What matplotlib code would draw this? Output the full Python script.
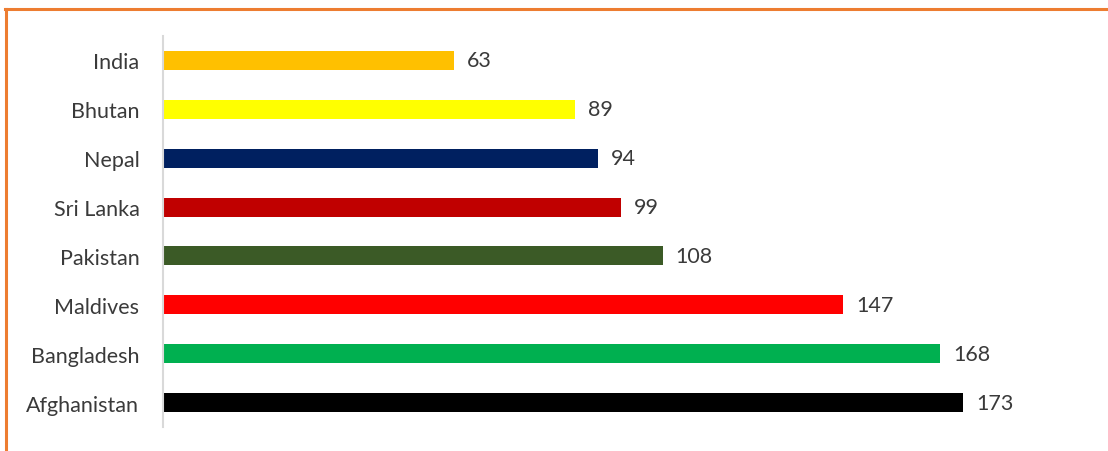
import matplotlib.pyplot as plt
from matplotlib.lines import Line2D

countries = ['India', 'Bhutan', 'Nepal', 'Sri Lanka', 'Pakistan',
             'Maldives', 'Bangladesh', 'Afghanistan']
values = [63, 89, 94, 99, 108, 147, 168, 173]
colors = ['#FFC000', '#FFFF00', '#002060', '#C00000', '#3B5A26',
          '#FF0000', '#00B050', '#000000']

plt.rcParams['font.family'] = ['Lato', 'DejaVu Sans']

fig = plt.figure(figsize=(11.08, 4.52), dpi=100)
ax = fig.add_axes([163 / 1108, 1 - 428 / 452, (1088 - 163) / 1108, (428 - 37) / 452])

pos = list(range(len(countries)))
ax.barh(pos, values, height=0.39, color=colors)
ax.set_ylim(len(countries) - 0.5, -0.5)
ax.set_xlim(0, 200)

for p, v in zip(pos, values):
    ax.text(v + 2.8, p, str(v), va='center', ha='left', fontsize=15.5,
            color='#3A3A3A')

ax.set_yticks(pos)
ax.set_yticklabels(countries, fontsize=15.5, color='#3A3A3A')
ax.tick_params(axis='y', length=0, pad=17)
ax.set_xticks([])
for s in ['top', 'right', 'bottom']:
    ax.spines[s].set_visible(False)
ax.spines['left'].set_color('#D9D9D9')
ax.spines['left'].set_linewidth(1.5)

# orange frame (top and left edges)
fig.add_artist(Line2D([5 / 1108, 1], [1 - 10 / 452, 1 - 10 / 452],
                      transform=fig.transFigure, color='#ED7D31', lw=2.2))
fig.add_artist(Line2D([6 / 1108, 6 / 1108], [0, 1 - 10 / 452],
                      transform=fig.transFigure, color='#ED7D31', lw=2.2))

fig.savefig('out.png', dpi=100)
